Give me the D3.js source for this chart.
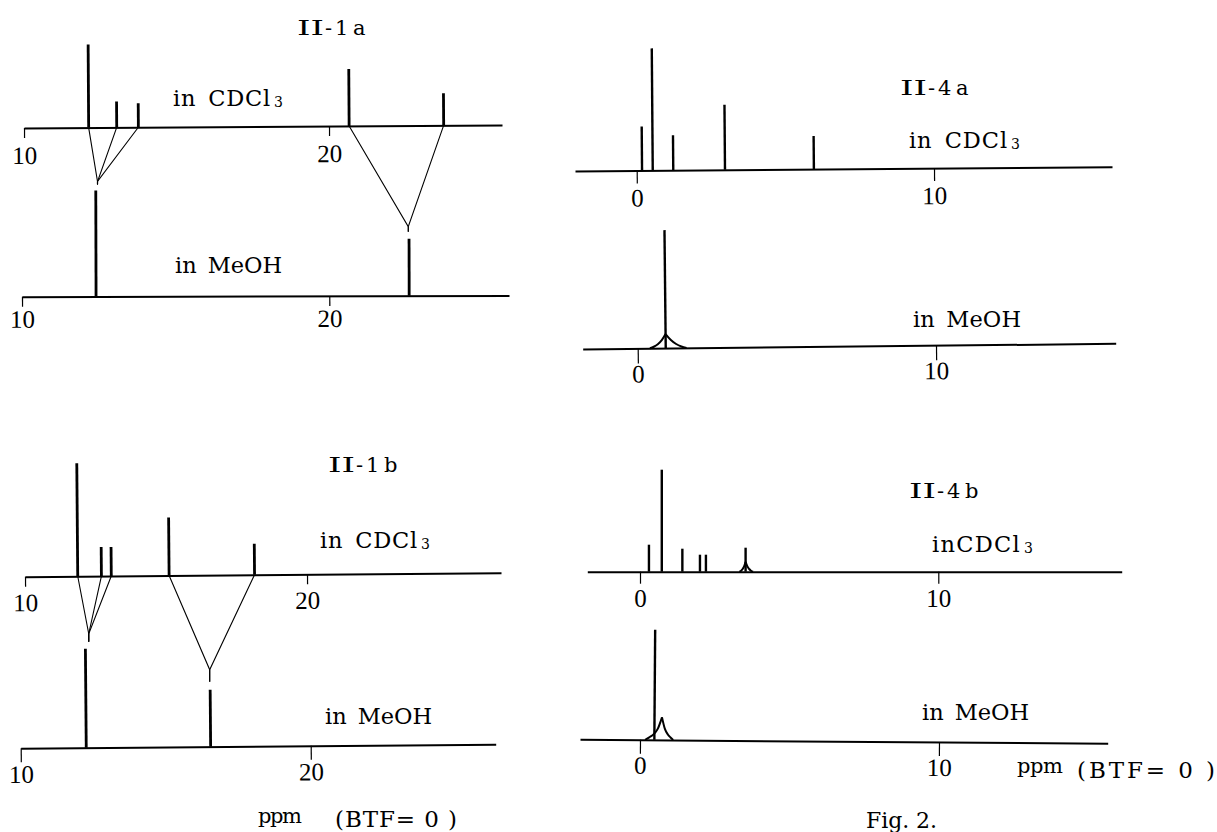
<!DOCTYPE html>
<html lang="en">
<head>
<meta charset="UTF-8">
<title>Fig. 2</title>
<style>
    body { margin: 0; background: #fff; }
    svg { display: block; background: #fff; }
    .axis path.domain { stroke: #000; stroke-width: 2; }
    .axis line { stroke: #000; stroke-width: 1.2; }
    .axis text { font-family: "Liberation Serif", "DejaVu Serif", serif; font-size: 25px; fill: #000; }
    .peak { stroke: #000; }
    .link { stroke: #000; stroke-width: 1.1; fill: none; }
    .hump { stroke: #000; stroke-width: 2; fill: none; }
    .lbl { font-family: "DejaVu Serif", "Liberation Serif", serif; fill: #000; }
</style>
</head>
<body>
<svg width="1217" height="832"></svg>
<script src="https://d3js.org/d3.v7.min.js"></script>
<script>
// chemical shifts in ppm (BTF = 0), heights in relative units
var ticksII1 = [10, 20];
var ticksII4 = [0, 10];

var ii1aCdcl3Shift  = [12.12, 13.04, 13.75, 20.66, 23.76];
var ii1aCdcl3Height = [83, 26, 24, 57, 32];
var ii1aMeohShift   = [12.41, 22.60];
var ii1aMeohHeight  = [106, 57];
var ii1aLink        = [0, 0, 0, 1, 1];   // CDCl3 peak -> MeOH peak

var ii1bCdcl3Shift  = [11.87, 12.71, 13.06, 15.11, 18.14];
var ii1bCdcl3Height = [113, 29, 29, 58, 31];
var ii1bMeohShift   = [12.26, 16.55];
var ii1bMeohHeight  = [99, 57];
var ii1bLink        = [0, 0, 0, 1, 1];

var ii4aCdcl3Shift  = [0.18, 0.54, 1.23, 2.97, 5.96];
var ii4aCdcl3Height = [44, 122, 35, 65, 33];
var ii4aMeohShift   = [0.94];
var ii4aMeohHeight  = [118];
var ii4aMeohHumpShift  = [0.41, 0.54, 0.675, 0.81, 0.94, 1.115, 1.29, 1.465, 1.64];
var ii4aMeohHumpHeight = [0, 1.5, 4, 8, 14, 8, 4, 1.5, 0];

var ii4bCdcl3Shift  = [0.30, 0.73, 1.42, 2.01, 2.21, 3.54];
var ii4bCdcl3Height = [27, 102, 23, 17, 17, 24];
var ii4bCdcl3HumpShift  = [3.33, 3.39, 3.44, 3.49, 3.54, 3.60, 3.66, 3.72, 3.79];
var ii4bCdcl3HumpHeight = [0, 1, 2.7, 5.3, 10, 5.3, 2.7, 1, 0];
var ii4bMeohShift   = [0.48];
var ii4bMeohHeight  = [110];
var ii4bMeohHumpShift  = [0.17, 0.31, 0.45, 0.59, 0.73, 0.83, 0.93, 1.02, 1.11];
var ii4bMeohHumpHeight = [0, 2.5, 5.5, 11, 22.6, 11, 5.5, 2.5, 0];

var svg = d3.select("svg");

// one stick spectrum on its own (slightly tilted, like the scan) baseline
function spectrum(o) {
    var cal = d3.scaleLinear().domain(o.ticks).range(o.tickPx);
    var x = d3.scaleLinear()
        .domain([cal.invert(o.left), cal.invert(o.right)])
        .range([o.left, o.right]);
    var y = d3.scaleLinear().domain([0, 100]).range([0, -100]);
    var g = svg.append("g")
        .attr("transform", "rotate(" + o.tilt + "," + o.left + "," + o.y + ") translate(0," + o.y + ")");

    var ax = g.append("g")
        .attr("class", "axis")
        .call(d3.axisBottom(x).tickValues(o.ticks).tickSize(o.tick).tickSizeOuter(0).tickFormat(d3.format("d")));
    ax.selectAll("text").attr("y", o.lab).attr("dy", null);

    if (o.humpShift) {
        var pts = o.humpShift.map(function(s, i){ return [s, o.humpHeight[i]]; });
        var top = d3.maxIndex(pts, function(d){ return d[1]; });
        var line = d3.line()
            .x(function(d){ return x(d[0]); })
            .y(function(d){ return y(d[1]); })
            .curve(d3.curveMonotoneX);
        g.selectAll(".hump")
            .data([pts.slice(0, top + 1), pts.slice(top)])
            .enter().append("path")
            .attr("class", "hump")
            .attr("d", line);
    }

    g.selectAll(".peak")
        .data(o.shift)
        .enter().append("line")
        .attr("class", "peak")
        .attr("stroke-width", o.sw)
        .attr("x1", function(d){ return x(d); })
        .attr("x2", function(d){ return x(d); })
        .attr("y1", 0)
        .attr("y2", function(d, i){ return y(o.height[i]); });

    // local -> page coordinates
    var a = o.tilt * Math.PI / 180;
    o.page = function(px, h) {
        var dx = px - o.left, dy = y(h);
        return [o.left + dx * Math.cos(a) - dy * Math.sin(a), o.y + dx * Math.sin(a) + dy * Math.cos(a)];
    };
    o.x = x;
    return o;
}

// lines joining the CDCl3 peaks to the MeOH peak they move to
function links(c, m, link, gap, tail) {
    c.shift.forEach(function(s, i) {
        var j = link[i];
        var from = c.page(c.x(s), 0);
        var top = m.page(m.x(m.shift[j]), m.height[j]);
        var meet = [c.page(c.x(m.shift[j]), 0)[0], top[1] - gap[j]];
        svg.append("path")
            .attr("class", "link")
            .attr("d", "M" + from + "L" + meet + "L" + [meet[0], meet[1] + tail[j]]);
    });
}

var a1c = spectrum({ticks: ticksII1, tickPx: [24, 329], left: 24, right: 502, y: 128, tilt: -0.36,
    tick: 10, lab: 36, sw: 2.8, shift: ii1aCdcl3Shift, height: ii1aCdcl3Height});
var a1m = spectrum({ticks: ticksII1, tickPx: [22, 329.3], left: 22, right: 509, y: 296.7, tilt: -0.15,
    tick: 10, lab: 31, sw: 2.8, shift: ii1aMeohShift, height: ii1aMeohHeight});
links(a1c, a1m, ii1aLink, [9, 12], [3, 5]);

var b1c = spectrum({ticks: ticksII1, tickPx: [25, 307], left: 25, right: 501, y: 576.7, tilt: -0.48,
    tick: 10, lab: 34.5, sw: 2.8, shift: ii1bCdcl3Shift, height: ii1bCdcl3Height});
var b1m = spectrum({ticks: ticksII1, tickPx: [20.7, 310.7], left: 20.7, right: 495.7, y: 748.3, tilt: -0.48,
    tick: 14, lab: 34.5, sw: 2.8, shift: ii1bMeohShift, height: ii1bMeohHeight});
links(b1c, b1m, ii1bLink, [15, 20], [8, 12]);

spectrum({ticks: ticksII4, tickPx: [636.7, 934], left: 575, right: 1112, y: 171, tilt: -0.46,
    tick: 13, lab: 36, sw: 2.4, shift: ii4aCdcl3Shift, height: ii4aCdcl3Height});
spectrum({ticks: ticksII4, tickPx: [637.7, 936], left: 582.7, right: 1115.7, y: 349, tilt: -0.61,
    tick: 15, lab: 34, sw: 2.4, shift: ii4aMeohShift, height: ii4aMeohHeight,
    humpShift: ii4aMeohHumpShift, humpHeight: ii4aMeohHumpHeight});

spectrum({ticks: ticksII4, tickPx: [640, 938.3], left: 587.3, right: 1121.7, y: 571.7, tilt: 0,
    tick: 12, lab: 35, sw: 2.4, shift: ii4bCdcl3Shift, height: ii4bCdcl3Height,
    humpShift: ii4bCdcl3HumpShift, humpHeight: ii4bCdcl3HumpHeight});
spectrum({ticks: ticksII4, tickPx: [640, 939], left: 580, right: 1107.7, y: 739.3, tilt: 0.43,
    tick: 14, lab: 34, sw: 2.4, shift: ii4bMeohShift, height: ii4bMeohHeight,
    humpShift: ii4bMeohHumpShift, humpHeight: ii4bMeohHumpHeight});

// panel titles: roman numeral, dash, number, letter
var titles = [
    [297, 35, "1", "a"],
    [328, 472, "1", "b"],
    [900, 95, "4", "a"],
    [909, 498, "4", "b"]
];

titles.forEach(function(d) {
    var x = d[0], b = d[1];
    svg.append("text").attr("class", "lbl").attr("x", x).attr("y", b).attr("font-size", 21)
        .attr("textLength", 27).attr("lengthAdjust", "spacingAndGlyphs").text("II");
    svg.append("text").attr("class", "lbl").attr("x", x + 28).attr("y", b).attr("font-size", 21).text("-");
    svg.append("text").attr("class", "lbl").attr("x", x + 38).attr("y", b).attr("font-size", 21).text(d[2]);
    svg.append("text").attr("class", "lbl").attr("x", x + 56).attr("y", b).attr("font-size", 21).text(d[3]);
});

// text, [x, baseline, font size, width, main text, subscript]
var labels = [
    [173, 106, 22.5, 110, "in\u2002CDCl", "3"],
    [175, 273, 22.5, 107, "in\u2002MeOH"],
    [320, 548, 22.5, 110, "in\u2002CDCl", "3"],
    [325, 724, 22.5, 107, "in\u2002MeOH"],
    [258, 823, 21, 44, "ppm"],
    [335, 827, 23, 122, "(BTF= 0 )"],
    [909, 148, 22.5, 111, "in\u2002CDCl", "3"],
    [913, 327, 22.5, 108, "in\u2002MeOH"],
    [932, 552, 22.5, 101, "inCDCl", "3"],
    [922, 720, 22.5, 107, "in\u2002MeOH"],
    [1017, 773, 21, 46, "ppm"],
    [1077, 778, 23, 138, "(BTF= 0 )"],
    [866, 828, 22, 71, "Fig. 2."]
];

labels.forEach(function(d) {
    var t = svg.append("text")
        .attr("class", "lbl")
        .attr("x", d[0])
        .attr("y", d[1])
        .attr("font-size", d[2])
        .attr("textLength", d[3])
        .attr("lengthAdjust", "spacing");
    t.append("tspan").text(d[4]);
    if (d[5]) t.append("tspan").attr("font-size", 14).attr("dx", 3).attr("dy", 1).text(d[5]);
});
</script>
</body>
</html>
